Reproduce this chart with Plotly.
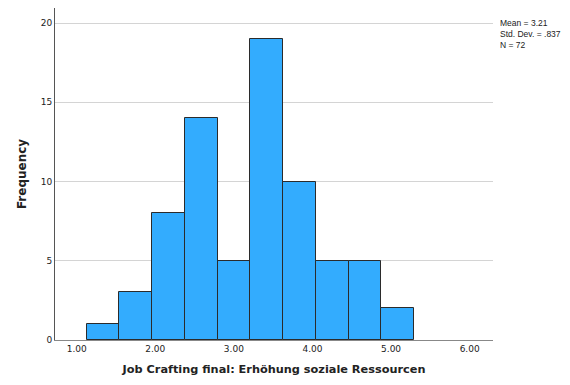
import plotly.graph_objects as go

# histogram bins
bin_start = 1.125
bin_width = 0.4167
counts = [1, 3, 8, 14, 5, 19, 10, 5, 5, 2]
x_ticks = [1, 2, 3, 4, 5, 6]
x_tick_labels = ["1.00", "2.00", "3.00", "4.00", "5.00", "6.00"]
y_ticks = [0, 5, 10, 15, 20]
stats_text = "Mean = 3.21<br>Std. Dev. = .837<br>N = 72"

centers = [bin_start + bin_width * (i + 0.5) for i in range(len(counts))]

fig = go.Figure(go.Bar(
    x=centers,
    y=counts,
    width=bin_width,
    marker=dict(color="#33acfe", line=dict(color="#2b2b2b", width=1)),
))

# page body adds an 8px offset, so the figure is a bit smaller than the window
fig.update_layout(
    width=562,
    height=377,
    margin=dict(l=47, r=77, t=0, b=45),
    plot_bgcolor="white",
    paper_bgcolor="white",
    showlegend=False,
    bargap=0,
    font=dict(family="DejaVu Sans", color="#222222"),
    xaxis=dict(
        range=[0.724, 6.297],
        tickvals=x_ticks,
        ticktext=x_tick_labels,
        tickfont=dict(size=9),
        showgrid=False,
        zeroline=False,
        showline=True,
        linecolor="#888888",
        linewidth=1,
        ticks="",
        title=dict(text="<b>Job Crafting final: Erhöhung soziale Ressourcen</b>",
                   font=dict(size=11.3), standoff=12),
    ),
    yaxis=dict(
        range=[0, 20.95],
        tickvals=y_ticks,
        tickfont=dict(size=9),
        showgrid=True,
        gridcolor="#d4d4d4",
        gridwidth=1,
        zeroline=False,
        showline=True,
        linecolor="#555555",
        linewidth=1,
        ticks="",
        title=dict(text="<b>Frequency</b>", font=dict(size=12), standoff=11),
    ),
    annotations=[dict(
        text=stats_text,
        xref="paper", yref="paper",
        x=1.012, y=0.975,
        xanchor="left", yanchor="top",
        align="left",
        showarrow=False,
        font=dict(family="Liberation Sans", size=8.5, color="#222222"),
    )],
)

fig.write_html("out.html")
